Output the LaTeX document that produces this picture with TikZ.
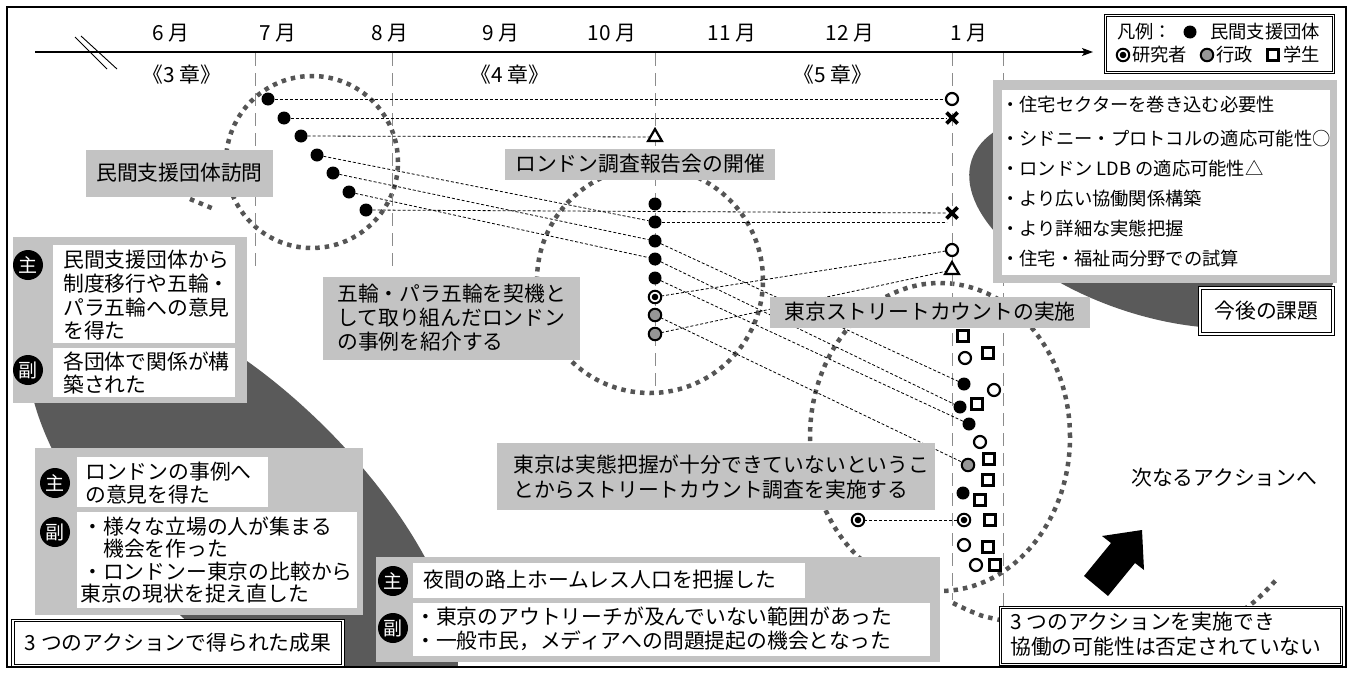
\documentclass[tikz,border=0pt]{standalone}
\usepackage{fontspec}
\setmainfont{Noto Sans CJK JP}
\usetikzlibrary{shapes.geometric,shapes.misc,arrows.meta}
\definecolor{boxgray}{RGB}{195,195,195}
\definecolor{blobgray}{RGB}{90,90,90}
\definecolor{ringgray}{RGB}{85,85,85}
\definecolor{guidegray}{RGB}{140,140,140}
\definecolor{dotgray}{RGB}{150,150,150}
\newcommand\myfs[1]{\fontsize{#1}{#1}\selectfont}
\pgfdeclarelayer{blob}
\pgfdeclarelayer{ringl}
\pgfdeclarelayer{connl}
\pgfsetlayers{blob,ringl,connl,main}
\tikzset{
  ring/.style={draw=ringgray, line width=4.5pt, dash pattern=on 4.5pt off 5pt},
  guide/.style={draw=guidegray, line width=1pt, dash pattern=on 13pt off 7pt},
  conn/.style={draw=black, line width=0.8pt, dash pattern=on 3pt off 2pt},
  mk/.style={inner sep=0pt, outer sep=0pt},
  bdot/.style={mk, circle, fill=black, minimum size=13pt},
  odot/.style={mk, circle, draw=black, line width=2.2pt, fill=white, minimum size=12pt},
  gdot/.style={mk, circle, draw=black, line width=2pt, fill=dotgray, minimum size=12.5pt},
  edot/.style={mk, circle, draw=black, line width=2pt, fill=white, minimum size=12.5pt, path picture={\fill[black] (path picture bounding box.center) circle (3.3pt);}},
  sq/.style={mk, rectangle, draw=black, line width=2.2pt, fill=white, minimum size=11pt},
  xm/.style={mk, cross out, draw=black, line width=3.6pt, minimum size=11pt},
  tri/.style={mk, regular polygon, regular polygon sides=3, draw=black, line width=2.2pt, fill=white, minimum size=16pt},
  t21/.style={inner sep=0pt, anchor=west, text height=16.6pt, text depth=2pt, font=\myfs{20.8}},
  t21c/.style={t21, anchor=center},
  t18/.style={inner sep=0pt, anchor=west, text height=14.6pt, text depth=1.8pt, font=\myfs{18.3}},
  lbl/.style={fill=boxgray, inner sep=0pt, text height=16.6pt, text depth=2pt, font=\myfs{20.8}},
  gbox/.style={fill=boxgray, inner sep=0pt, anchor=north west},
  wbox/.style={fill=white, inner sep=0pt, anchor=north west},
  dbl/.style={draw=black, line width=1.1pt, double=white, double distance=1.6pt, fill=white, inner sep=0pt},
  badge/.style={circle, fill=black, text=white, inner sep=0pt, minimum size=30pt, font=\myfs{19}},
}
\begin{document}
\begin{tikzpicture}[x=1pt,y=-1pt]
\useasboundingbox (0,0) rectangle (1351,672);
% ---------- dark blobs
\begin{pgfonlayer}{blob}
\begin{scope}
\clip (8,8) rectangle (1345,666);
\fill[blobgray, rotate around={-18.3:(1153,220)}] (1153,220) ellipse[x radius=191pt, y radius=95pt];
\fill[blobgray, rotate around={-45:(243,512)}] (243,512) ellipse[x radius=280pt, y radius=118pt];
\end{scope}
\end{pgfonlayer}
% ---------- dotted rings
\begin{pgfonlayer}{ringl}
\draw[ring] (312,162) circle[radius=86pt];
\draw[ring] (190,199) -- (214,209);
\draw[ring] (650,280) circle[radius=113pt];
\draw[ring] (940,437) ellipse[x radius=130pt, y radius=154pt];
\draw[ring] plot[smooth, tension=0.6] coordinates {(953,603) (975,613) (1000,620) (1120,645) (1210,628) (1250,605) (1276,580)};
\end{pgfonlayer}
% ---------- frame and axis
\draw[line width=1.4pt] (7,7) rectangle (1346,667);
\coordinate (ax0) at (35,52);
\coordinate (ax1) at (1093,52);
\draw[line width=1.1pt, -{Stealth[length=11pt,width=8pt,inset=2.5pt]}] (ax0) -- (ax1);
\draw[line width=0.9pt] (75,37) -- (107,69) (81,36) -- (117,69);
\node[t21c] (m6) at (171,33) {6 月};
\node[t21c] (m7) at (278,33) {7 月};
\node[t21c] (m8) at (390,33) {8 月};
\node[t21c] (m9) at (501,33) {9 月};
\node[t21c] (m10) at (612,33) {10 月};
\node[t21c] (m11) at (732,33) {11 月};
\node[t21c] (m12) at (850,33) {12 月};
\node[t21c] (m1) at (969,33) {1 月};
\node[t21c] (ch3) at (182,75) {《3 章》};
\node[t21c] (ch4) at (510,75) {《4 章》};
\node[t21c] (ch5) at (833,75) {《5 章》};
% ---------- guide lines
\begin{pgfonlayer}{connl}
\draw[guide] (255,53) -- (255,266);
\draw[guide] (392,53) -- (392,266);
\draw[guide] (655,53) -- (655,393);
\draw[guide] (952,53) -- (952,600);
\draw[guide] (1003,53) -- (1003,607);
\end{pgfonlayer}
% ---------- label boxes
\node[lbl, minimum width=187pt, minimum height=47pt] (visit) at (179.5,173.5) {民間支援団体訪問};
\node[lbl, minimum width=270pt, minimum height=31pt] (rep) at (640,164.5) {ロンドン調査報告会の開催};
\node[gbox, minimum width=257pt, minimum height=83pt] (gorin) at (323,277) {};
\node[t21] (gorin1) at (337,294) {五輪・パラ五輪を契機と};
\node[t21] (gorin2) at (337,318) {して取り組んだロンドン};
\node[t21] (gorin3) at (337,342) {の事例を紹介する};
\node[lbl, minimum width=320pt, minimum height=31pt] (sc) at (930,312.5) {東京ストリートカウントの実施};
\node[gbox, minimum width=438pt, minimum height=67pt] (tk) at (497,443) {};
\node[t21] (tk1) at (513,465) {東京は実態把握が十分できていないというこ};
\node[t21] (tk2) at (513,490) {とからストリートカウント調査を実施する};
% ---------- result box 1
\node[gbox, minimum width=234pt, minimum height=166pt] (res1) at (13,237) {};
\node[wbox, minimum width=182pt, minimum height=98pt] (res1a) at (53,245) {};
\node[wbox, minimum width=182pt, minimum height=49pt] (res1b) at (53,348) {};
\node[badge] (res1m) at (28,265) {主};
\node[badge] (res1s) at (28,370) {副};
\node[t21] (r1l1) at (63,260) {民間支援団体から};
\node[t21] (r1l2) at (63,284) {制度移行や五輪・};
\node[t21] (r1l3) at (63,308) {パラ五輪への意見};
\node[t21] (r1l4) at (63,331) {を得た};
\node[t21] (r1l5) at (63,362) {各団体で関係が構};
\node[t21] (r1l6) at (63,385) {築された};
% ---------- result box 2
\node[gbox, minimum width=328pt, minimum height=167pt] (res2) at (35,448) {};
\node[wbox, minimum width=191pt, minimum height=50pt] (res2a) at (77,457) {};
\node[wbox, minimum width=280pt, minimum height=96pt] (res2b) at (77,512) {};
\node[badge] (res2m) at (55,483) {主};
\node[badge] (res2s) at (55,532) {副};
\node[t21] (r2l1) at (85,472) {ロンドンの事例へ};
\node[t21] (r2l2) at (85,495) {の意見を得た};
\node[t21] (r2l3) at (82,527) {・様々な立場の人が集まる};
\node[t21] (r2l4) at (103,549) {機会を作った};
\node[t21] (r2l5) at (82,572) {・ロンドンー東京の比較から};
\node[t21] (r2l6) at (80,594) {東京の現状を捉え直した};
% ---------- result box 3
\node[gbox, minimum width=564pt, minimum height=105pt] (res3) at (376,557) {};
\node[wbox, minimum width=392pt, minimum height=35pt] (res3a) at (413,563) {};
\node[wbox, minimum width=517pt, minimum height=53pt] (res3b) at (413,603) {};
\node[badge] (res3m) at (393,581) {主};
\node[badge] (res3s) at (393,628) {副};
\node[t21] (r3l1) at (423,580) {夜間の路上ホームレス人口を把握した};
\node[t21] (r3l2) at (415,617) {・東京のアウトリーチが及んでいない範囲があった};
\node[t21] (r3l3) at (415,641) {・一般市民，メディアへの問題提起の機会となった};
% ---------- issues
\node[gbox, minimum width=344pt, minimum height=203pt] (iss) at (993,80) {};
\node[wbox, minimum width=328pt, minimum height=185pt] (issw) at (1002,90) {};
\node[t18] (is1) at (1001,105) {・住宅セクターを巻き込む必要性};
\node[t18] (is2) at (1001,139) {・シドニー・プロトコルの適応可能性○};
\node[t18] (is3) at (1001,169) {・ロンドン LDB の適応可能性△};
\node[t18] (is4) at (1001,199) {・より広い協働関係構築};
\node[t18] (is5) at (1001,229) {・より詳細な実態把握};
\node[t18] (is6) at (1001,259) {・住宅・福祉両分野での試算};
\node[dbl, minimum width=133pt, minimum height=46pt, text height=16.6pt, text depth=2pt, font=\myfs{20.8}] (kad) at (1266.5,311) {今後の課題};
% ---------- conclusion boxes
\node[dbl, anchor=north west, minimum width=341pt, minimum height=57pt] (conc) at (1000,607) {};
\node[t21] (conc1) at (1010,622) {3 つのアクションを実施でき};
\node[t21] (conc2) at (1010,647) {協働の可能性は否定されていない};
\node[dbl, minimum width=330pt, minimum height=45pt, text height=16.6pt, text depth=2pt, font=\myfs{20.8}] (seika) at (178,643) {3 つのアクションで得られた成果};
% ---------- legend
\node[dbl, anchor=north west, minimum width=228pt, minimum height=57pt] (leg) at (1105,15) {};
\node[t18] (lg1) at (1117,32) {凡例：};
\node[bdot] (lgb) at (1190,32) {};
\node[t18] (lg2) at (1210,32) {民間支援団体};
\node[edot] (lge) at (1123,55) {};
\node[t18] (lg3) at (1132,55) {研究者};
\node[gdot] (lgg) at (1207,55) {};
\node[t18] (lg4) at (1216,55) {行政};
\node[sq] (lgs) at (1273,55) {};
\node[t18] (lg5) at (1283,55) {学生};
% ---------- arrow and next action
\fill[black] (1084,576) -- (1111,543) -- (1102,536) -- (1142,530) -- (1144,570) -- (1135,563) -- (1108,596) -- cycle;
\node[t21] (next) at (1131,478) {次なるアクションへ};
% ---------- markers
\node[bdot] (A1) at (268,99) {};
\node[bdot] (A2) at (284,118) {};
\node[bdot] (A3) at (301,136) {};
\node[bdot] (A4) at (317,155) {};
\node[bdot] (A5) at (333,173) {};
\node[bdot] (A6) at (349,192) {};
\node[bdot] (A7) at (366,210) {};
\node[tri] (T1) at (655,137) {};
\node[bdot] (D1) at (655,204) {};
\node[bdot] (D2) at (655,222) {};
\node[bdot] (D3) at (655,241) {};
\node[bdot] (D4) at (655,259) {};
\node[bdot] (D5) at (655,278) {};
\node[edot] (D6) at (655,297) {};
\node[gdot] (D7) at (655,315) {};
\node[gdot] (D8) at (655,334) {};
\node[odot] (R1) at (952,99) {};
\node[xm] (R2) at (952,118) {};
\node[xm] (R3) at (952,213) {};
\node[odot] (R4) at (952,250) {};
\node[tri] (R5) at (952,270) {};
\node[sq] (S1) at (963,336) {};
\node[odot] (S2) at (965,358) {};
\node[sq] (S3) at (988,353) {};
\node[bdot] (B1) at (964,384) {};
\node[odot] (S4) at (994,390) {};
\node[bdot] (B2) at (960,407) {};
\node[sq] (S5) at (977,404) {};
\node[bdot] (B3) at (969,424) {};
\node[odot] (S6) at (980,442) {};
\node[gdot] (G1) at (968,465) {};
\node[sq] (S7) at (989,459) {};
\node[sq] (S8) at (988,480) {};
\node[bdot] (B4) at (963,493) {};
\node[sq] (S9) at (980,500) {};
\node[edot] (E1) at (964,520) {};
\node[sq] (S10) at (990,520) {};
\node[odot] (S11) at (964,545) {};
\node[sq] (S12) at (988,547) {};
\node[odot] (S13) at (976,565) {};
\node[sq] (S14) at (995,565) {};
\node[edot] (E0) at (858,520) {};
% ---------- connectors
\begin{pgfonlayer}{connl}
\draw[conn] (A1) -- (R1);
\draw[conn] (A2) -- (R2);
\draw[conn] (A3) -- (T1);
\draw[conn] (A4) -- (D2);
\draw[conn] (A5) -- (D3);
\draw[conn] (A6) -- (D4);
\draw[conn] (A7) -- (R3);
\draw[conn] (D2) -- (D2 -| R3.west);
\draw[conn] (D3) -- (B1);
\draw[conn] (D4) -- (B2);
\draw[conn] (D5) -- (B3);
\draw[conn] (D7) -- (G1);
\draw[conn] (D6) -- (R4);
\draw[conn] (D8) -- (R5);
\draw[conn] (E0) -- (E1);
\end{pgfonlayer}
\end{tikzpicture}
\end{document}
